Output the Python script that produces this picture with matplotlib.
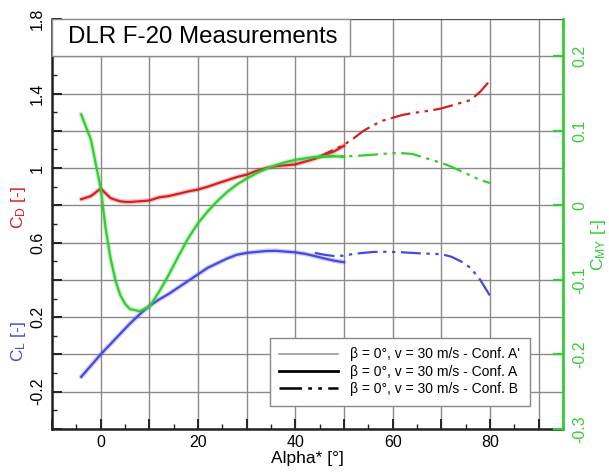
import numpy as np
import matplotlib
matplotlib.use("Agg")
import matplotlib.pyplot as plt
from matplotlib.patches import Rectangle
from matplotlib.lines import Line2D
from matplotlib.ticker import MultipleLocator, FuncFormatter

plt.rcParams['font.family'] = ['Liberation Sans', 'DejaVu Sans']
plt.rcParams['mathtext.fontset'] = 'custom'
plt.rcParams['mathtext.rm'] = 'Liberation Sans'
plt.rcParams['mathtext.it'] = 'Liberation Sans'

# Conf. A (solid)
alpha_a = [-4, -2, 0, 1, 2, 3, 4, 5, 6, 8, 10, 12, 14, 16, 18, 20, 22, 24,
           26, 28, 30, 32, 34, 36, 38, 40, 42, 44, 46, 48, 50]
cd_a = [0.833, 0.85, 0.89, 0.865, 0.84, 0.83, 0.822, 0.819, 0.818, 0.822,
        0.826, 0.843, 0.85, 0.862, 0.875, 0.885, 0.9, 0.918, 0.935, 0.952,
        0.965, 0.985, 1.0, 1.01, 1.015, 1.02, 1.035, 1.05, 1.07, 1.09, 1.12]
cl_a = [-0.12, -0.06, 0.0, 0.028, 0.055, 0.083, 0.11, 0.138, 0.165, 0.215,
        0.26, 0.295, 0.325, 0.36, 0.395, 0.43, 0.465, 0.49, 0.515, 0.535,
        0.545, 0.55, 0.555, 0.556, 0.552, 0.548, 0.54, 0.528, 0.515, 0.503,
        0.495]
cmy_a = [0.122, 0.088, 0.023, -0.03, -0.07, -0.1, -0.12, -0.132, -0.139,
         -0.142, -0.136, -0.116, -0.093, -0.068, -0.044, -0.024, -0.008,
         0.006, 0.018, 0.028, 0.036, 0.043, 0.049, 0.054, 0.058, 0.061,
         0.063, 0.065, 0.066, 0.066, 0.065]

# Conf. B (dash-dot-dot)
alpha_b = [44, 46, 48, 50, 52, 54, 56, 58, 60, 62, 64, 66, 68, 70, 72, 74,
           76, 78, 80]
cd_b = [1.05, 1.075, 1.1, 1.125, 1.16, 1.2, 1.23, 1.255, 1.27, 1.285, 1.295,
        1.302, 1.31, 1.32, 1.335, 1.35, 1.365, 1.41, 1.47]
cl_b = [0.545, 0.535, 0.528, 0.53, 0.54, 0.545, 0.55, 0.551, 0.55, 0.548,
        0.545, 0.542, 0.54, 0.538, 0.525, 0.5, 0.465, 0.4, 0.315]
cmy_b = [0.064, 0.065, 0.066, 0.066, 0.066, 0.067, 0.068, 0.069, 0.07, 0.07,
         0.069, 0.065, 0.061, 0.057, 0.052, 0.046, 0.04, 0.034, 0.03]

legend_labels = [u"\u03b2 = 0\u00b0, v = 30 m/s - Conf. A'",
                 u"\u03b2 = 0\u00b0, v = 30 m/s - Conf. A",
                 u"\u03b2 = 0\u00b0, v = 30 m/s - Conf. B"]

red = '#d42020'
blue = '#4848e0'
green = '#33cc33'
dashdot2 = (0, (9, 2.5, 1.5, 2.5, 1.5, 2.5))

fig = plt.figure(figsize=(6.09, 4.73), dpi=100)
ax = fig.add_axes([52 / 609, 44 / 473, 511 / 609, 410 / 473])
ax2 = ax.twinx()

# faint halo under each curve (the A' runs sit almost on top of A)
for x, y, c in [(alpha_a, cd_a, red), (alpha_a, cl_a, blue)]:
    ax.plot(x, y, color=c, lw=3.5, alpha=0.25, solid_capstyle='round')
ax2.plot(alpha_a, cmy_a, color=green, lw=3.5, alpha=0.25)

ax.plot(alpha_a, cd_a, color=red, lw=1.6)
ax.plot(alpha_a, cl_a, color=blue, lw=1.6)
ax.plot(alpha_b, cd_b, color=red, lw=1.6, linestyle=dashdot2)
ax.plot(alpha_b, cl_b, color=blue, lw=1.6, linestyle=dashdot2)
ax2.plot(alpha_a, cmy_a, color=green, lw=1.6)
ax2.plot(alpha_b, cmy_b, color=green, lw=1.6, linestyle=dashdot2)

ax.set_xlim(-10, 95)
ax.set_ylim(-0.4, 1.8)
ax2.set_ylim(-0.3, 0.25)

# grid
ax.set_axisbelow(True)
ax.xaxis.set_major_locator(MultipleLocator(10))
ax.xaxis.set_minor_locator(MultipleLocator(5))
ax.yaxis.set_major_locator(MultipleLocator(0.2))
ax.yaxis.set_minor_locator(MultipleLocator(0.1))
ax.grid(True, which='major', color='#8a8a8a', lw=1.0)

def xfmt(v, pos):
    return '%d' % v if round(v) % 20 == 0 else ''

def yfmt(v, pos):
    k = int(round(v * 10))
    if (k + 2) % 4 == 0:
        return ('%g' % round(v, 1))
    return ''

ax.xaxis.set_major_formatter(FuncFormatter(xfmt))
ax.yaxis.set_major_formatter(FuncFormatter(yfmt))
ax.tick_params(which='both', direction='in', top=False, right=False,
               labelsize=11.5, width=1.4, color='#222222')
ax.tick_params(which='major', length=7)
ax.tick_params(which='minor', length=3.5, width=1.0)
ax.tick_params(axis='x', pad=4)
ax.tick_params(axis='y', pad=5)
for lab in ax.get_yticklabels():
    lab.set_rotation(90)
    lab.set_va('center')

for s in ['left', 'bottom']:
    ax.spines[s].set_linewidth(1.8)
    ax.spines[s].set_color('#222222')
ax.spines['top'].set_color('#555555')
ax.spines['right'].set_visible(False)
for s in ['left', 'bottom', 'top']:
    ax2.spines[s].set_visible(False)
ax2.spines['right'].set_color(green)
ax2.spines['right'].set_linewidth(2)

ax2.yaxis.set_major_locator(MultipleLocator(0.1))
ax2.yaxis.set_major_formatter(FuncFormatter(lambda v, p: '%g' % round(v, 1)))
ax2.tick_params(axis='y', direction='in', length=7, width=1.6,
                color=green, labelcolor=green, labelsize=11.5, pad=7)
for lab in ax2.get_yticklabels():
    lab.set_rotation(90)
    lab.set_va('center')

ax.set_xlabel(u'Alpha* [\u00b0]', fontsize=12.5, labelpad=1)

fig.text(19 / 609, 1 - 207 / 473, r'C$_\mathrm{D}$ [-]', color=red,
         fontsize=12.5, rotation=90, ha='center', va='center')
fig.text(19 / 609, 1 - 342 / 473, r'C$_\mathrm{L}$ [-]', color=blue,
         fontsize=12.5, rotation=90, ha='center', va='center')
fig.text(598 / 609, 1 - 245 / 473, r'C$_\mathrm{MY}$ [-]', color=green,
         fontsize=12.5, rotation=90, ha='center', va='center')

# title box
ax.add_patch(Rectangle((0, 0.909), 0.583, 0.091, transform=ax.transAxes,
                       facecolor='white', edgecolor='#8a8a8a', lw=1.0,
                       zorder=3, clip_on=False))
ax.text(0.031, 0.955, 'DLR F-20 Measurements', transform=ax.transAxes,
        fontsize=17.3, va='center', ha='left', zorder=4)

handles = [Line2D([], [], color='#999999', lw=1.2),
           Line2D([], [], color='black', lw=2.0),
           Line2D([], [], color='black', lw=1.8, linestyle=dashdot2)]
leg = ax2.legend(handles, legend_labels, loc='lower right',
                 bbox_to_anchor=(0.935, 0.056), fontsize=10,
                 handlelength=4.2, handletextpad=0.9, fancybox=False,
                 framealpha=1, edgecolor='#888888', labelspacing=0.25,
                 borderpad=0.7, borderaxespad=0)
leg.get_frame().set_linewidth(1.0)

fig.savefig('out.png', dpi=100)
